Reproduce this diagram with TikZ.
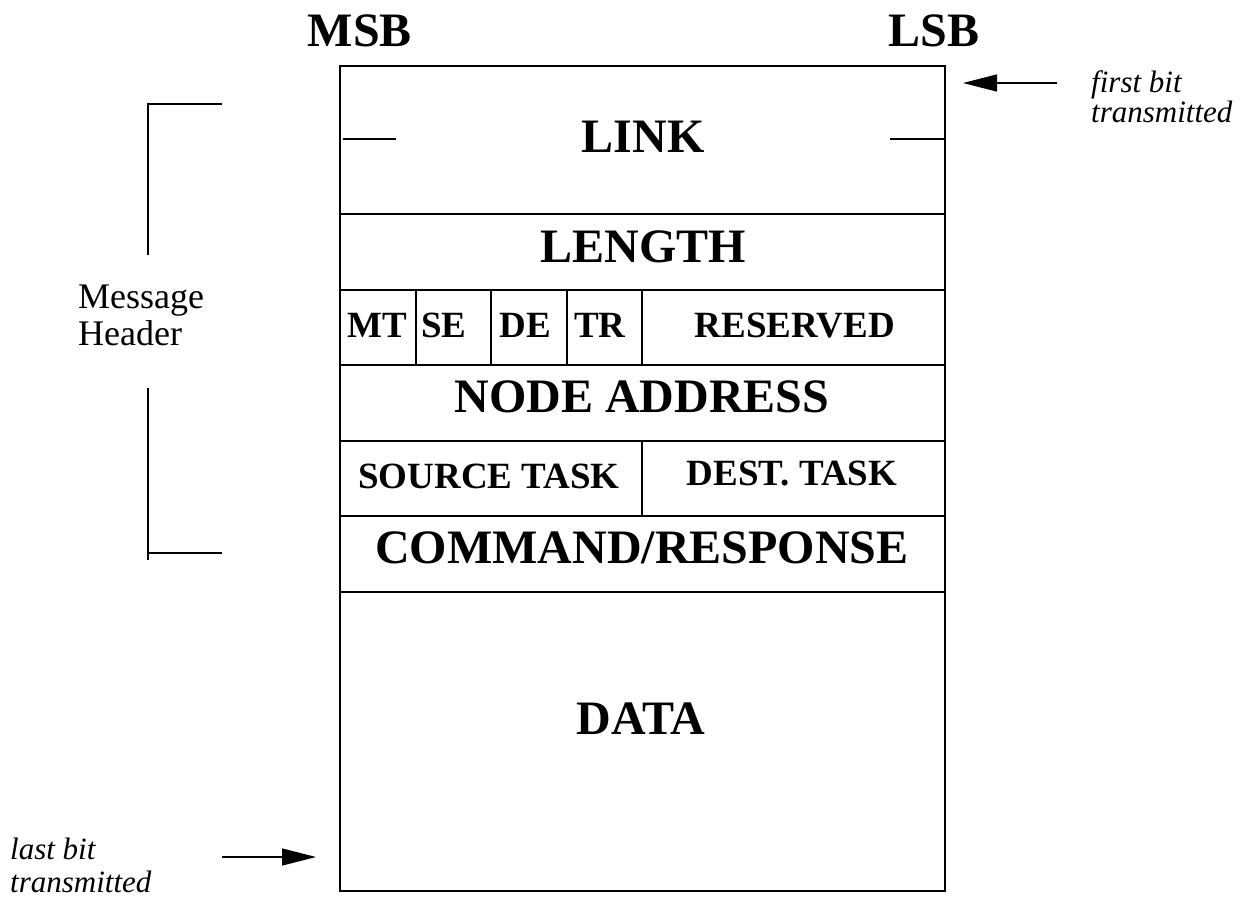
\documentclass[tikz,border=0pt]{standalone}
\usepackage{fontspec}
\setmainfont{Liberation Serif}
\usetikzlibrary{arrows.meta}
\begin{document}
\begin{tikzpicture}[x=1pt,y=-1pt,
  frame/.style={line width=1.3pt},
  bracket/.style={line width=1.1pt},
  big/.style={font=\bfseries\fontsize{48}{48}\selectfont, anchor=base, inner sep=0pt},
  field/.style={font=\bfseries\fontsize{37}{37}\selectfont, anchor=base, inner sep=0pt},
  label/.style={font=\fontsize{36}{36}\selectfont, anchor=base west, inner sep=0pt},
  note/.style={font=\itshape\fontsize{31}{31}\selectfont, anchor=base west, inner sep=0pt},
  pointer/.style={line width=1.3pt, -{Triangle[length=34pt,width=17pt]}}
]
\useasboundingbox (0,0) rectangle (1248,898);

% frame of the message and its row dividers
\draw[frame] (340,66) rectangle (945,891);
\foreach \y in {214,290,365,441,516,592}
  \draw[frame] (340,\y) -- (945,\y);
% column dividers of the flag row
\foreach \x in {416,491,567,642}
  \draw[frame] (\x,290) -- (\x,365);
% divider between the task fields
\draw[frame] (642,441) -- (642,516);
% short marks in the link field
\draw[frame] (343,139) -- (396,139);
\draw[frame] (890,139) -- (945,139);

% bit order headings
\node[big] (msb) at (360,46) {MSB};
\node[big] (lsb) at (934,46) {LSB};

% field names
\node[big] (link) at (643,152) {LINK};
\node[big] (length) at (643,262) {LENGTH};
\node[field] (mt) at (377,337) {MT};
\node[field] (se) at (444,337) {SE};
\node[field] (de) at (525,337) {DE};
\node[field] (tr) at (600,337) {TR};
\node[field] (reserved) at (795,337) {RESERVED};
\node[big] (nodeaddr) at (642,412) {NODE ADDRESS};
\node[field] (srctask) at (489,488) {SOURCE TASK};
\node[field] (desttask) at (792,485) {DEST. TASK};
\node[big] (cmdresp) at (642,563) {COMMAND/RESPONSE};
\node[big] (data) at (641,734) {DATA};

% header bracket and its label
\node[label] (hdr1) at (78,308) {Message};
\node[label] (hdr2) at (78,345) {Header};
\draw[bracket] (222,104) -- (148,104) -- (148,255);
\draw[bracket] (148,388) -- (148,560);
\draw[bracket] (148,553) -- (222,553);

% transmission order
\node[note] (first1) at (1091,92) {first bit};
\node[note] (first2) at (1091,122) {transmitted};
\coordinate (firstfrom) at (1057,83);
\coordinate (firstto) at (963,83);
\draw[pointer] (firstfrom) -- (firstto);

\node[note] (last1) at (10,859) {last bit};
\node[note] (last2) at (10,892) {transmitted};
\coordinate (lastfrom) at (222,857);
\coordinate (lastto) at (316,857);
\draw[pointer] (lastfrom) -- (lastto);
\end{tikzpicture}
\end{document}
